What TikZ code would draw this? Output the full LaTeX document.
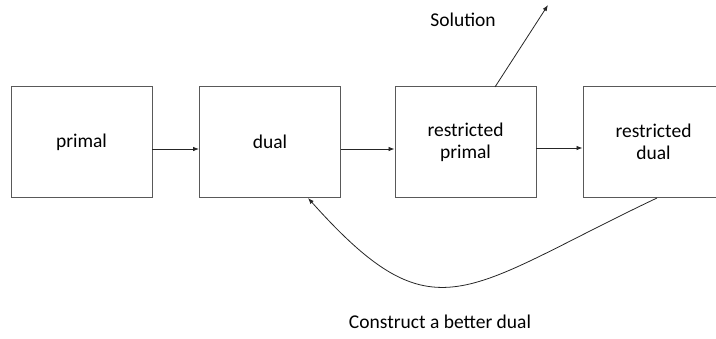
\documentclass[tikz,border=0pt]{standalone}
\usepackage{fontspec}
\setmainfont{Carlito}
\usetikzlibrary{arrows.meta}
\begin{document}
\begin{tikzpicture}[x=1pt,y=-1pt,
  boxnode/.style={draw=black!65,line width=0.9pt,minimum width=141pt,minimum height=111pt,inner sep=0pt,align=center,font=\fontsize{19.5}{22}\selectfont},
  conn/.style={draw=black!85,line width=0.8pt,-{Latex[length=6pt,width=4.5pt]}},
  lbl/.style={font=\fontsize{19.5}{22}\selectfont,inner sep=0pt}]
\useasboundingbox (0,0) rectangle (716,338);
\node[boxnode] (primal) at (81.5,142) {primal};
\node[boxnode] (dual) at (270,142) {dual};
\node[boxnode] (rprimal) at (465.5,142) {restricted\\primal};
\node[boxnode] (rdual) at (653.5,142) {restricted\\dual};
\coordinate (sol) at (548,5);
\node[lbl] (soltext) at (463,20) {Solution};
\node[lbl] (cons) at (440,322) {Construct a better dual};
\draw[conn] (primal.east |- 0,149) -- (dual.west |- 0,149);
\draw[conn] (dual.east |- 0,149) -- (rprimal.west |- 0,149);
\draw[conn] (rprimal.east |- 0,148) -- (rdual.west |- 0,148);
\draw[conn] (495,87) -- (sol);
\draw[conn] (657,198) .. controls (463,290) and (435,340) .. (308,198);
\end{tikzpicture}
\end{document}
